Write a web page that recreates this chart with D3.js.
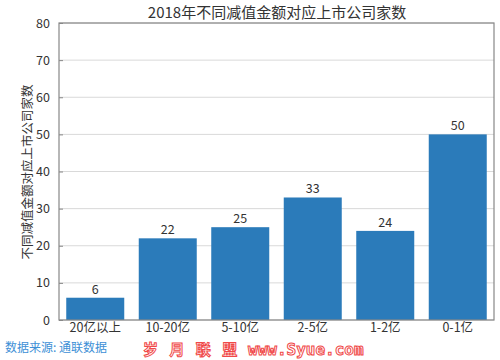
<!DOCTYPE html>
<html><head><meta charset="utf-8">
<script src="https://cdn.jsdelivr.net/npm/d3@7/dist/d3.min.js"></script>
<style>body{margin:0;background:#fff}svg{display:block}</style>
</head><body>
<svg id="c" width="500" height="360"></svg>
<script>
const categories = ["20亿以上","10-20亿","5-10亿","2-5亿","1-2亿","0-1亿"];
const values = [6,22,25,33,24,50];
const yTicks = [0,10,20,30,40,50,60,70,80];
const title = "2018年不同减值金额对应上市公司家数";
const yLabel = "不同减值金额对应上市公司家数";
const source = "数据来源: 通联数据";
const watermark1 = "岁 月 联 盟";
const watermark2 = "www.Syue.com";

const svg = d3.select("#c");
const m = {l:59, r:6, t:23, b:40};
const W = 500, H = 360;
const font = "'Noto Sans CJK SC','DejaVu Sans',sans-serif";
const x = d3.scaleBand().domain(categories).range([m.l, W-m.r]).paddingInner(0.2).paddingOuter(0.1);
const y = d3.scaleLinear().domain([0,80]).range([H-m.b, m.t]);

// grid
svg.append("g").selectAll("line").data(yTicks).join("line")
  .attr("x1", m.l).attr("x2", W-m.r).attr("y1", d=>y(d)).attr("y2", d=>y(d))
  .attr("stroke", "#d9d9d9").attr("stroke-width", 1);

// bars
svg.append("g").selectAll("rect").data(values).join("rect")
  .attr("x", (d,i)=>x(categories[i])).attr("width", x.bandwidth())
  .attr("y", d=>y(d)).attr("height", d=>y(0)-y(d)).attr("fill", "#2b7bba");

// value labels
svg.append("g").selectAll("text").data(values).join("text")
  .attr("x", (d,i)=>x(categories[i])+x.bandwidth()/2).attr("y", d=>y(d)-4)
  .attr("text-anchor","middle").attr("font-family", font).attr("font-size", 12.5).attr("fill","#333")
  .text(d=>d);

// frame
svg.append("rect").attr("x", m.l).attr("y", m.t).attr("width", W-m.r-m.l).attr("height", H-m.b-m.t)
  .attr("fill","none").attr("stroke","#888").attr("stroke-width",1.2);

// y axis
const ya = svg.append("g").attr("transform", `translate(${m.l},0)`)
  .call(d3.axisLeft(y).tickValues(yTicks).tickSizeInner(-4).tickSizeOuter(0).tickPadding(9));
ya.select(".domain").remove();
ya.selectAll("line").attr("stroke","#888");
ya.selectAll("text").attr("font-family", font).attr("font-size", 12.5).attr("fill","#333");

// x axis
const xa = svg.append("g").attr("transform", `translate(0,${H-m.b})`)
  .call(d3.axisBottom(x).tickSize(0).tickPadding(3));
xa.select(".domain").remove();
xa.selectAll("text").attr("font-family", font).attr("font-size", 12.5).attr("fill","#333");

// title
svg.append("text").attr("x", 277).attr("y", 18).attr("text-anchor","middle")
  .attr("font-family", font).attr("font-size", 15).attr("fill","#333").text(title);

// y label
svg.append("text").attr("transform", `translate(32,172) rotate(-90)`)
  .attr("text-anchor","middle").attr("font-family", font).attr("font-size", 12.5).attr("fill","#333").text(yLabel);

// source
svg.append("text").attr("x", 5).attr("y", 352).attr("font-family", font).attr("font-size", 12)
  .attr("fill","#3d8fd6").text(source);

// watermark
svg.append("text").attr("x", 143).attr("y", 355).attr("font-family", font).attr("font-size", 15)
  .attr("font-weight","bold").attr("letter-spacing", 4)
  .attr("fill","#fff").attr("stroke","#f04848").attr("stroke-width",1).text(watermark1);
svg.append("text").attr("x", 248).attr("y", 355).attr("font-family", "'DejaVu Sans Mono',monospace").attr("font-size", 16)
  .attr("font-weight","bold")
  .attr("fill","#fff").attr("stroke","#f04848").attr("stroke-width",1).text(watermark2);
</script>
</body></html>
